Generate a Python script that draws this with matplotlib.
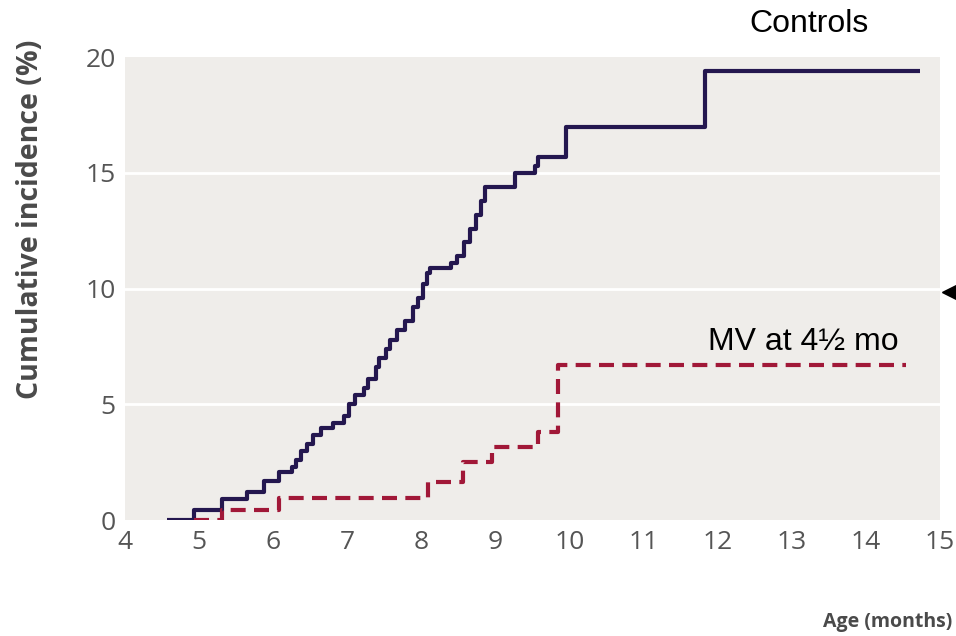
import matplotlib
matplotlib.use("Agg")
import matplotlib.pyplot as plt

# Data (months, cumulative incidence %)
controls_x = [4.57, 4.93, 5.31, 5.64, 5.87, 6.07, 6.25, 6.30, 6.38, 6.45, 6.53, 6.65,
              6.80, 6.95, 7.02, 7.10, 7.22, 7.28, 7.38, 7.43, 7.52, 7.58, 7.67, 7.78,
              7.88, 7.95, 8.02, 8.07, 8.12, 8.40, 8.48, 8.58, 8.66, 8.74, 8.80, 8.86,
              9.27, 9.53, 9.58, 9.95, 11.83, 14.73]
controls_y = [0.0, 0.45, 0.9, 1.2, 1.7, 2.1, 2.3, 2.6, 3.0, 3.3, 3.7, 4.0,
              4.2, 4.5, 5.0, 5.4, 5.7, 6.1, 6.6, 7.0, 7.4, 7.8, 8.2, 8.6,
              9.2, 9.6, 10.2, 10.7, 10.9, 11.1, 11.4, 12.0, 12.6, 13.2, 13.8, 14.4,
              15.0, 15.3, 15.7, 17.0, 19.4, 19.4]

mv_x = [4.93, 5.31, 6.07, 8.09, 8.56, 8.95, 9.58, 9.85, 14.55]
mv_y = [0.0, 0.43, 0.95, 1.65, 2.5, 3.15, 3.8, 6.7, 6.7]

x_ticks = [4, 5, 6, 7, 8, 9, 10, 11, 12, 13, 14, 15]
y_ticks = [0, 5, 10, 15, 20]

fig = plt.figure(figsize=(9.56, 6.36), dpi=100)
ax = fig.add_axes([0.131, 0.182, 0.852, 0.728])
ax.set_facecolor("#efedea")
ax.set_xlim(4, 15)
ax.set_ylim(0, 20)

for g in [5, 10, 15]:
    ax.axhline(g, color="white", lw=2, zorder=1)

ax.plot(controls_x, controls_y, drawstyle="steps-post", color="#24174f", lw=3,
        zorder=3, solid_capstyle="butt")
ax.plot(mv_x, mv_y, drawstyle="steps-post", color="#a11838", lw=3,
        dashes=(3.6, 2.0), zorder=3)

for s in ax.spines.values():
    s.set_visible(False)
ax.set_xticks(x_ticks)
ax.set_yticks(y_ticks)
ax.tick_params(length=0, labelsize=19, labelcolor="#555555", pad=7)
for lab in ax.get_xticklabels() + ax.get_yticklabels():
    lab.set_family("Open Sans")

fig.text(0.032, 0.655, "Cumulative incidence (%)", rotation=90, ha="center", va="center",
         fontsize=20.5, fontweight="bold", color="#4a4a4a", family="Open Sans")
fig.text(0.996, 0.022, "Age (months)", ha="right", va="center",
         fontsize=14, fontweight="bold", color="#4a4a4a", family="Open Sans")

fig.text(0.846, 0.962, "Controls", ha="center", va="center", fontsize=23,
         color="black", family="Liberation Sans")
fig.text(0.840, 0.462, "MV at 4½ mo", ha="center", va="center", fontsize=23,
         color="black", family="Liberation Sans")

ax.plot([15.22], [9.85], marker="<", markersize=20, color="black", clip_on=False, zorder=5)

fig.savefig("out.png", dpi=100)
